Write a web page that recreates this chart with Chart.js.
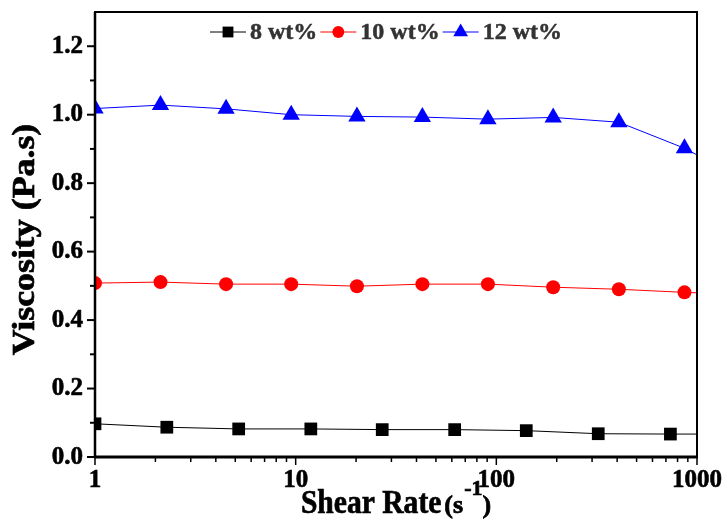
<!DOCTYPE html>
<html>
<head>
<meta charset="utf-8">
<script src="https://cdn.jsdelivr.net/npm/chart.js@4.4.1/dist/chart.umd.min.js"></script>
<style>
  html,body{margin:0;padding:0;background:#fff}
</style>
</head>
<body>
<canvas id="chart" width="722" height="525"></canvas>
<script>
// shear rate (s-1) and viscosity (Pa.s)
const shear8  = [1, 2.28, 5.2, 11.9, 27, 62, 141, 322, 737, 1680];
const visc8   = [0.097, 0.087, 0.082, 0.082, 0.080, 0.080, 0.077, 0.068, 0.067, 0.067];
const shear10 = [1, 2.12, 4.5, 9.5, 20.2, 42.8, 90.8, 192, 408, 866, 1840];
const visc10  = [0.508, 0.511, 0.505, 0.505, 0.499, 0.505, 0.505, 0.496, 0.490, 0.481, 0.474];
const shear12 = [1, 2.12, 4.5, 9.5, 20.2, 42.8, 90.8, 192, 408, 866, 1840];
const visc12  = [1.018, 1.028, 1.017, 1.000, 0.995, 0.993, 0.987, 0.992, 0.978, 0.902, 0.80];

const seriesNames = ['8 wt%', '10 wt%', '12 wt%'];
const yMajor = [0, 0.2, 0.4, 0.6, 0.8, 1.0, 1.2];
const yMinor = [0.1, 0.3, 0.5, 0.7, 0.9, 1.1];
const xMajor = [1, 10, 100, 1000];
const xMinor = [2,3,4,5,6,7,8,9,20,30,40,50,60,70,80,90,200,300,400,500,600,700,800,900];

const SERIF = '"Liberation Serif", "Times New Roman", serif';

function pts(xs, ys){ return xs.map((x,i)=>({x:x, y:ys[i]})); }

function series(label, xs, ys, color, style, r){
  return {
    label: label, data: pts(xs, ys), showLine: true,
    borderColor: color, borderWidth: 1, backgroundColor: color,
    pointStyle: style, pointRadius: r, pointBorderWidth: 0, pointHoverRadius: r,
    clip: 0
  };
}

// bold text with a thin outline so it looks as heavy as the original
function heavyText(ctx, t, x, y, w){
  ctx.fillText(t, x, y);
  ctx.lineWidth = w;
  ctx.strokeStyle = ctx.fillStyle;
  ctx.strokeText(t, x, y);
}

const axesPlugin = {
  id: 'axesPlugin',
  afterDatasetsDraw(chart){
    const ctx = chart.ctx, a = chart.chartArea;
    const xs = chart.scales.x, ys = chart.scales.y;
    ctx.save();
    ctx.strokeStyle = '#000';
    // frame
    ctx.lineWidth = 2;
    ctx.strokeRect(a.left, a.top, a.right - a.left, a.bottom - a.top);
    ctx.lineWidth = 2.5;
    ctx.beginPath(); ctx.moveTo(a.left, a.top); ctx.lineTo(a.left, a.bottom); ctx.stroke();
    ctx.lineWidth = 3;
    ctx.beginPath(); ctx.moveTo(a.left - 1, a.bottom); ctx.lineTo(a.right + 1, a.bottom); ctx.stroke();

    // y ticks
    ctx.lineWidth = 2;
    yMajor.forEach(v=>{
      const y = ys.getPixelForValue(v);
      ctx.beginPath(); ctx.moveTo(a.left, y); ctx.lineTo(a.left - 8, y); ctx.stroke();
    });
    yMinor.forEach(v=>{
      const y = ys.getPixelForValue(v);
      ctx.beginPath(); ctx.moveTo(a.left, y); ctx.lineTo(a.left - 5, y); ctx.stroke();
    });
    // x ticks
    ctx.lineWidth = 1.5;
    xMajor.forEach(v=>{
      const x = xs.getPixelForValue(v);
      ctx.beginPath(); ctx.moveTo(x, a.bottom); ctx.lineTo(x, a.bottom + 8); ctx.stroke();
    });
    xMinor.forEach(v=>{
      const x = xs.getPixelForValue(v);
      ctx.beginPath(); ctx.moveTo(x, a.bottom); ctx.lineTo(x, a.bottom + 5); ctx.stroke();
    });

    // tick labels
    ctx.fillStyle = '#000';
    ctx.font = 'bold 25px ' + SERIF;
    ctx.textAlign = 'right'; ctx.textBaseline = 'alphabetic';
    yMajor.forEach(v=>{
      heavyText(ctx, v.toFixed(1), a.left - 12, ys.getPixelForValue(v) + 6.5, 0.6);
    });
    ctx.textAlign = 'center';
    xMajor.forEach(v=>{
      heavyText(ctx, String(v), xs.getPixelForValue(v), 487, 0.6);
    });

    // y title
    ctx.save();
    ctx.translate(34, (a.top + a.bottom) / 2 + 5);
    ctx.rotate(-Math.PI / 2);
    ctx.scale(1.12, 1);
    ctx.font = 'bold 32px ' + SERIF;
    ctx.textAlign = 'center';
    heavyText(ctx, 'Viscosity (Pa.s)', 0, 0, 0.7);
    ctx.restore();

    // x title with superscript
    const parts = [
      {t:'Shear Rate', f:34, sx:0.87, dy:0, gap:3},
      {t:'(s', f:26, sx:1, dy:0, gap:1},
      {t:'-1', f:22, sx:1, dy:-18, gap:0},
      {t:')', f:26, sx:1, dy:0, gap:0}
    ];
    let total = 0;
    parts.forEach(p=>{ ctx.font = 'bold ' + p.f + 'px ' + SERIF; p.w = ctx.measureText(p.t).width * p.sx; total += p.w + p.gap; });
    let x = (a.left + a.right) / 2 - total / 2;
    ctx.textAlign = 'left';
    parts.forEach(p=>{
      ctx.save();
      ctx.font = 'bold ' + p.f + 'px ' + SERIF;
      ctx.translate(x, 513 + p.dy);
      ctx.scale(p.sx, 1);
      heavyText(ctx, p.t, 0, 0, 0.7);
      ctx.restore();
      x += p.w + p.gap;
    });

    // legend
    const ly = 32;
    let lx = 210;
    ctx.font = 'bold 24px ' + SERIF;
    ctx.textBaseline = 'middle';
    chart.data.datasets.forEach((ds, i)=>{
      ctx.strokeStyle = ds.borderColor; ctx.lineWidth = 1;
      ctx.beginPath(); ctx.moveTo(lx, ly); ctx.lineTo(lx + 36, ly); ctx.stroke();
      ctx.fillStyle = ds.backgroundColor;
      Chart.helpers.drawPoint(ctx, {pointStyle: ds.pointStyle, radius: ds.pointRadius * 0.85, rotation: 0, borderWidth: 0}, lx + 18, ly);
      ctx.fillStyle = '#333';
      heavyText(ctx, seriesNames[i], lx + 40, ly + 1, 0.5);
      lx += 40 + ctx.measureText(seriesNames[i]).width + 3;
    });
    ctx.restore();
  }
};

new Chart(document.getElementById('chart'), {
  type: 'scatter',
  data: {
    datasets: [
      series(seriesNames[0], shear8, visc8, '#000000', 'rect', 9),
      series(seriesNames[1], shear10, visc10, '#ff0000', 'circle', 7),
      series(seriesNames[2], shear12, visc12, '#0000ff', 'triangle', 10)
    ]
  },
  options: {
    responsive: false,
    devicePixelRatio: 1,
    animation: false,
    layout: { padding: { left: 95, right: 25, top: 12, bottom: 68 } },
    scales: {
      x: { type: 'logarithmic', min: 1, max: 1000, display: false },
      y: { type: 'linear', min: 0, max: 1.3, display: false }
    },
    plugins: { legend: { display: false }, tooltip: { enabled: false } }
  },
  plugins: [axesPlugin]
});
</script>
</body>
</html>
